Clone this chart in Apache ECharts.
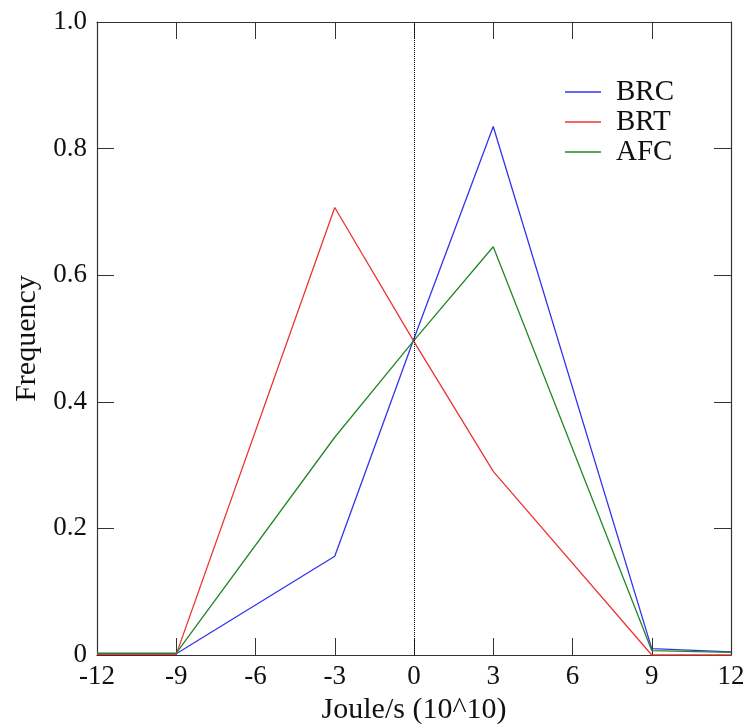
<!DOCTYPE html>
<html><head><meta charset="utf-8">
<script src="https://cdn.jsdelivr.net/npm/echarts@6/dist/echarts.min.js"></script>
<style>html,body{margin:0;padding:0;background:#fff}#c{width:750px;height:724px}</style>
</head><body><div id="c"></div>
<script>
const xValues = [-12, -9, -3, 0, 3, 9, 12];
const brc = [0.002, 0.002, 0.156, 0.5, 0.835, 0.01, 0.005];
const brt = [0.001, 0.001, 0.707, 0.495, 0.29, 0.0, 0.0];
const afc = [0.003, 0.003, 0.344, 0.497, 0.645, 0.007, 0.004];
const seriesNames = ['BRC', 'BRT', 'AFC'];
const seriesColors = ['#3333ee', '#ee3333', '#228822'];

const font = 'Liberation Serif';
const pair = (ys) => xValues.map((x, i) => [x, ys[i]]);
const frame = '#333';

const chart = echarts.init(document.getElementById('c'));
const baseX = {
  type: 'value', min: -12, max: 12, interval: 3,
  axisLine: { show: true, onZero: false, lineStyle: { color: frame, width: 1.2 } },
  axisTick: { show: true, inside: true, length: 17, lineStyle: { color: frame } },
  splitLine: { show: false }
};
const baseY = {
  type: 'value', min: 0, max: 1, interval: 0.2,
  axisLine: { show: true, onZero: false, lineStyle: { color: frame, width: 1.2 } },
  axisTick: { show: true, inside: true, length: 17, lineStyle: { color: frame } },
  splitLine: { show: false }
};
chart.setOption({
  animation: false,
  backgroundColor: '#fff',
  grid: { left: 97, right: 19, top: 22, bottom: 69, containLabel: false, outerBoundsMode: 'none' },
  legend: {
    data: seriesNames, orient: 'vertical', left: 560, top: 72,
    icon: 'rect', itemWidth: 36, itemHeight: 1.5, itemGap: 0,
    textStyle: { fontFamily: font, fontSize: 29, lineHeight: 30, color: '#111', padding: [0, 0, 0, 10] }
  },
  xAxis: [
    Object.assign({}, baseX, {
      position: 'bottom',
      name: 'Joule/s (10^10)', nameLocation: 'middle', nameGap: 26,
      nameTextStyle: { fontFamily: font, fontSize: 30, color: '#111' },
      axisLabel: { fontFamily: font, fontSize: 27, color: '#111', margin: 8 }
    }),
    Object.assign({}, baseX, { position: 'top', axisLabel: { show: false } })
  ],
  yAxis: [
    Object.assign({}, baseY, {
      position: 'left',
      name: 'Frequency', nameLocation: 'middle', nameGap: 50,
      nameTextStyle: { fontFamily: font, fontSize: 30, color: '#111' },
      axisLabel: { fontFamily: font, fontSize: 27, color: '#111', margin: 10,
        formatter: v => v === 0 ? '0' : v.toFixed(1) }
    }),
    Object.assign({}, baseY, { position: 'right', axisLabel: { show: false } })
  ],
  series: [
    { name: 'BRC', type: 'line', data: pair(brc), symbol: 'none',
      lineStyle: { color: seriesColors[0], width: 1.3 }, itemStyle: { color: seriesColors[0] },
      markLine: { silent: true, symbol: 'none', label: { show: false },
        lineStyle: { color: '#000', type: 'dotted', width: 1 }, data: [{ xAxis: 0 }] } },
    { name: 'BRT', type: 'line', data: pair(brt), symbol: 'none',
      lineStyle: { color: seriesColors[1], width: 1.3 }, itemStyle: { color: seriesColors[1] } },
    { name: 'AFC', type: 'line', data: pair(afc), symbol: 'none',
      lineStyle: { color: seriesColors[2], width: 1.3 }, itemStyle: { color: seriesColors[2] } }
  ]
});
</script></body></html>
